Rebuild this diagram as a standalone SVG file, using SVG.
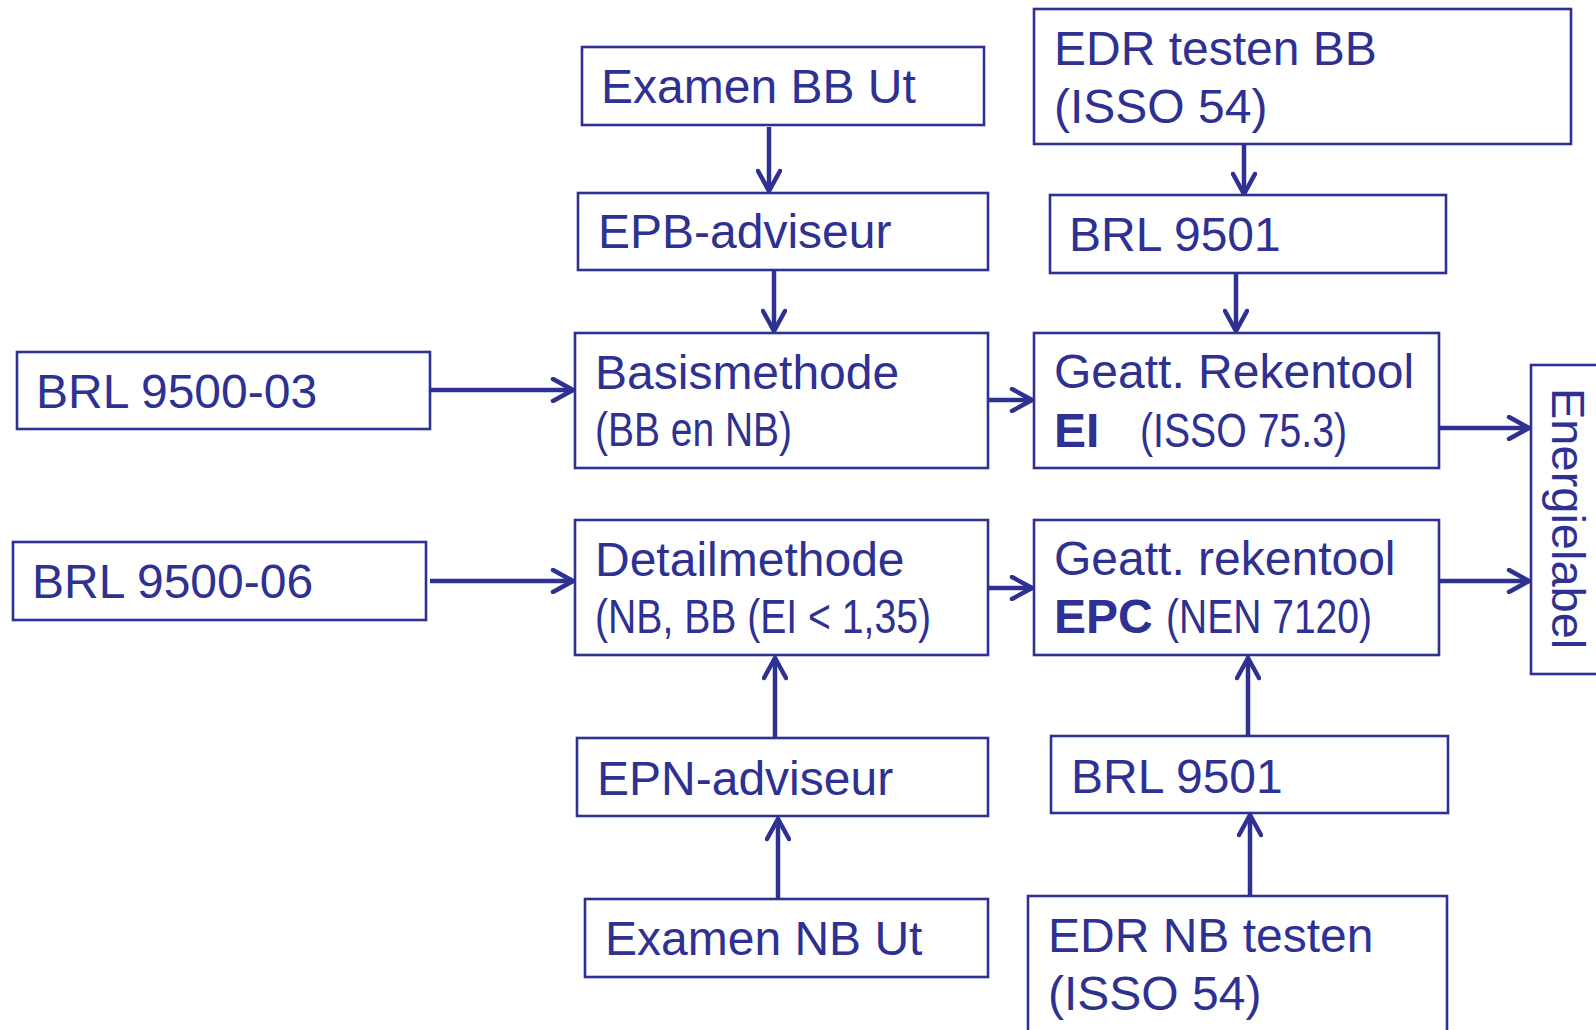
<svg xmlns="http://www.w3.org/2000/svg" width="1596" height="1030" viewBox="0 0 1596 1030">
  <style>
    .box { fill: #ffffff; stroke: #2E3192; stroke-width: 2.6; }
    .t { font-family: "Liberation Sans", Arial, sans-serif; font-size: 48px; fill: #2E3192; }
    .b { font-weight: bold; }
    .v { font-size: 47px; }
    .link { fill: none; stroke: #2E3192; stroke-width: 4.5; marker-end: url(#chev); }
  </style>
  <defs>
    <marker id="chev" markerUnits="userSpaceOnUse" viewBox="0 0 26 26" markerWidth="26" markerHeight="26" refX="23" refY="13" orient="auto">
      <path d="M3,2 L23,13 L3,24" fill="none" stroke="#2E3192" stroke-width="4.5" stroke-linecap="round" stroke-linejoin="miter"/>
    </marker>
  </defs>
  <rect width="1596" height="1030" fill="#ffffff"/>

  <!-- connectors -->
  <g id="connectors">
    <line class="link" x1="769" y1="127" x2="769" y2="191"/>
    <line class="link" x1="774" y1="270" x2="774" y2="331"/>
    <line class="link" x1="1244" y1="136" x2="1244" y2="194"/>
    <line class="link" x1="1236" y1="273" x2="1236" y2="331"/>
    <line class="link" x1="430" y1="390" x2="573" y2="390"/>
    <line class="link" x1="430" y1="581" x2="573" y2="581"/>
    <line class="link" x1="988" y1="400" x2="1032" y2="400"/>
    <line class="link" x1="988" y1="588" x2="1032" y2="588"/>
    <line class="link" x1="1439" y1="428" x2="1529" y2="428"/>
    <line class="link" x1="1439" y1="581" x2="1529" y2="581"/>
    <line class="link" x1="775" y1="738" x2="775" y2="658"/>
    <line class="link" x1="778" y1="898" x2="778" y2="819"/>
    <line class="link" x1="1248" y1="736" x2="1248" y2="658"/>
    <line class="link" x1="1250" y1="895" x2="1250" y2="815"/>
  </g>

  <!-- nodes -->
  <g id="examen-bb">
    <rect class="box" x="582" y="47" width="402" height="78"/>
    <text class="t" x="601" y="103">Examen BB Ut</text>
  </g>
  <g id="epb-adviseur">
    <rect class="box" x="578" y="193" width="410" height="77"/>
    <text class="t" x="598" y="248">EPB-adviseur</text>
  </g>
  <g id="basismethode">
    <rect class="box" x="575" y="333" width="413" height="135"/>
    <text class="t" x="595" y="389">Basismethode</text>
    <text class="t" x="595" y="446" textLength="197" lengthAdjust="spacingAndGlyphs">(BB en NB)</text>
  </g>
  <g id="detailmethode">
    <rect class="box" x="575" y="520" width="413" height="135"/>
    <text class="t" x="595" y="576">Detailmethode</text>
    <text class="t" x="595" y="633" textLength="336" lengthAdjust="spacingAndGlyphs">(NB, BB (EI &lt; 1,35)</text>
  </g>
  <g id="epn-adviseur">
    <rect class="box" x="577" y="738" width="411" height="78"/>
    <text class="t" x="597" y="795">EPN-adviseur</text>
  </g>
  <g id="examen-nb">
    <rect class="box" x="585" y="899" width="403" height="78"/>
    <text class="t" x="605" y="955">Examen NB Ut</text>
  </g>
  <g id="edr-bb">
    <rect class="box" x="1034" y="9" width="537" height="135"/>
    <text class="t" x="1054" y="65">EDR testen BB</text>
    <text class="t" x="1054" y="123">(ISSO 54)</text>
  </g>
  <g id="brl-9501-top">
    <rect class="box" x="1050" y="195" width="396" height="78"/>
    <text class="t" x="1069" y="251">BRL 9501</text>
  </g>
  <g id="rekentool-ei">
    <rect class="box" x="1034" y="333" width="405" height="135"/>
    <text class="t" x="1054" y="388">Geatt. Rekentool</text>
    <text class="t b" x="1054" y="447">EI</text>
    <text class="t" x="1140" y="447" textLength="207" lengthAdjust="spacingAndGlyphs">(ISSO 75.3)</text>
  </g>
  <g id="rekentool-epc">
    <rect class="box" x="1034" y="520" width="405" height="135"/>
    <text class="t" x="1054" y="575">Geatt. rekentool</text>
    <text class="t b" x="1054" y="633">EPC</text>
    <text class="t" x="1166" y="633" textLength="206" lengthAdjust="spacingAndGlyphs">(NEN 7120)</text>
  </g>
  <g id="brl-9501-bottom">
    <rect class="box" x="1051" y="736" width="397" height="77"/>
    <text class="t" x="1071" y="793">BRL 9501</text>
  </g>
  <g id="edr-nb">
    <rect class="box" x="1028" y="896" width="419" height="160"/>
    <text class="t" x="1048" y="952">EDR NB testen</text>
    <text class="t" x="1048" y="1010">(ISSO 54)</text>
  </g>
  <g id="energielabel">
    <rect class="box" x="1531" y="365" width="90" height="309"/>
    <text class="t v" x="1552" y="388" transform="rotate(90 1552 388)">Energielabel</text>
  </g>
  <g id="brl-9500-03">
    <rect class="box" x="17" y="352" width="413" height="77"/>
    <text class="t" x="36" y="408">BRL 9500-03</text>
  </g>
  <g id="brl-9500-06">
    <rect class="box" x="13" y="542" width="413" height="78"/>
    <text class="t" x="32" y="598">BRL 9500-06</text>
  </g>
</svg>
